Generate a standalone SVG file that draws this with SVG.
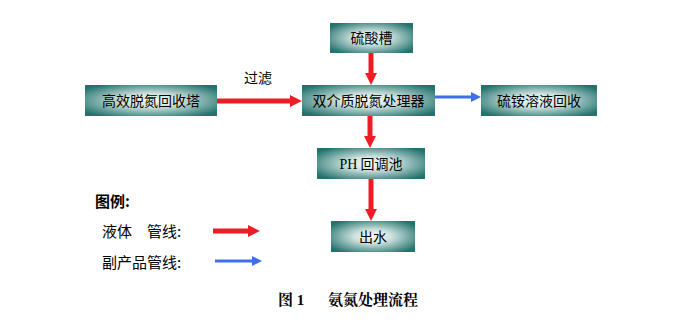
<svg xmlns="http://www.w3.org/2000/svg" width="673" height="325" viewBox="0 0 673 325">
<defs>
<radialGradient id="g" cx="0.5" cy="0.5" r="0.62">
<stop offset="0" stop-color="#f4fbf8"/>
<stop offset="0.35" stop-color="#cfe3df"/>
<stop offset="1" stop-color="#23726e"/>
</radialGradient>
<marker id="ar" viewBox="0 0 10 10" refX="0.5" refY="5" markerWidth="12" markerHeight="12" markerUnits="userSpaceOnUse" orient="auto"><path d="M0,0 L10,5 L0,10 z" fill="#ee1c25"/></marker>
<marker id="ab" viewBox="0 0 10 10" refX="0.5" refY="5" markerWidth="10" markerHeight="10" markerUnits="userSpaceOnUse" orient="auto"><path d="M0,0 L10,5 L0,10 z" fill="#3f6fe8"/></marker>
</defs>
<style>
.box{fill:url(#g)}
.t{font-family:"Noto Sans CJK SC","Liberation Sans",sans-serif;font-size:14px;fill:#000;text-anchor:middle}
.red{stroke:#ee1c25;stroke-width:5;fill:none}
.blue{stroke:#3f6fe8;stroke-width:3;fill:none}
.lg{font-family:"Noto Sans CJK SC",sans-serif;font-size:15px;fill:#000}
</style>
<rect width="673" height="325" fill="#fff"/>
<g id="connectors">
<line class="red" x1="217" y1="101" x2="290.5" y2="101" marker-end="url(#ar)"/>
<line class="red" x1="371" y1="53" x2="371" y2="73.5" marker-end="url(#ar)"/>
<line class="red" x1="370" y1="116" x2="370" y2="136.5" marker-end="url(#ar)"/>
<line class="red" x1="371" y1="179" x2="371" y2="209.5" marker-end="url(#ar)"/>
<line class="blue" x1="435" y1="97" x2="471.5" y2="97" marker-end="url(#ab)"/>
<text x="258" y="83" class="t">过滤</text>
</g>
<g id="n1"><rect class="box" x="330" y="23" width="83" height="30"/><text class="t" x="371.5" y="43">硫酸槽</text></g>
<g id="n2"><rect class="box" x="85" y="85" width="132" height="31"/><text class="t" x="151" y="105.5">高效脱氮回收塔</text></g>
<g id="n3"><rect class="box" x="302" y="85" width="133" height="31"/><text class="t" x="368.5" y="105.5">双介质脱氮处理器</text></g>
<g id="n4"><rect class="box" x="481" y="85" width="116" height="31"/><text class="t" x="539" y="105.5">硫铵溶液回收</text></g>
<g id="n5"><rect class="box" x="317" y="148" width="108" height="31"/><text class="t" x="371" y="168.5"><tspan font-family="Liberation Serif,serif">PH</tspan> 回调池</text></g>
<g id="n6"><rect class="box" x="331" y="221" width="84" height="31"/><text class="t" x="373" y="241.5">出水</text></g>
<g id="legend">
<text class="lg" x="95" y="207" font-weight="bold">图例:</text>
<text class="lg" x="102" y="237">液体　管线:</text>
<line class="red" x1="213" y1="231" x2="248.5" y2="231" marker-end="url(#ar)"/>
<text class="lg" x="102" y="268">副产品管线:</text>
<line class="blue" x1="215" y1="261" x2="252.5" y2="261" marker-end="url(#ab)"/>
</g>
<text x="278" y="305" font-family="Liberation Serif,'Noto Serif CJK SC','Noto Sans CJK SC',serif" font-size="15" font-weight="bold">图 1<tspan x="328">氨氮处理流程</tspan></text>
</svg>
